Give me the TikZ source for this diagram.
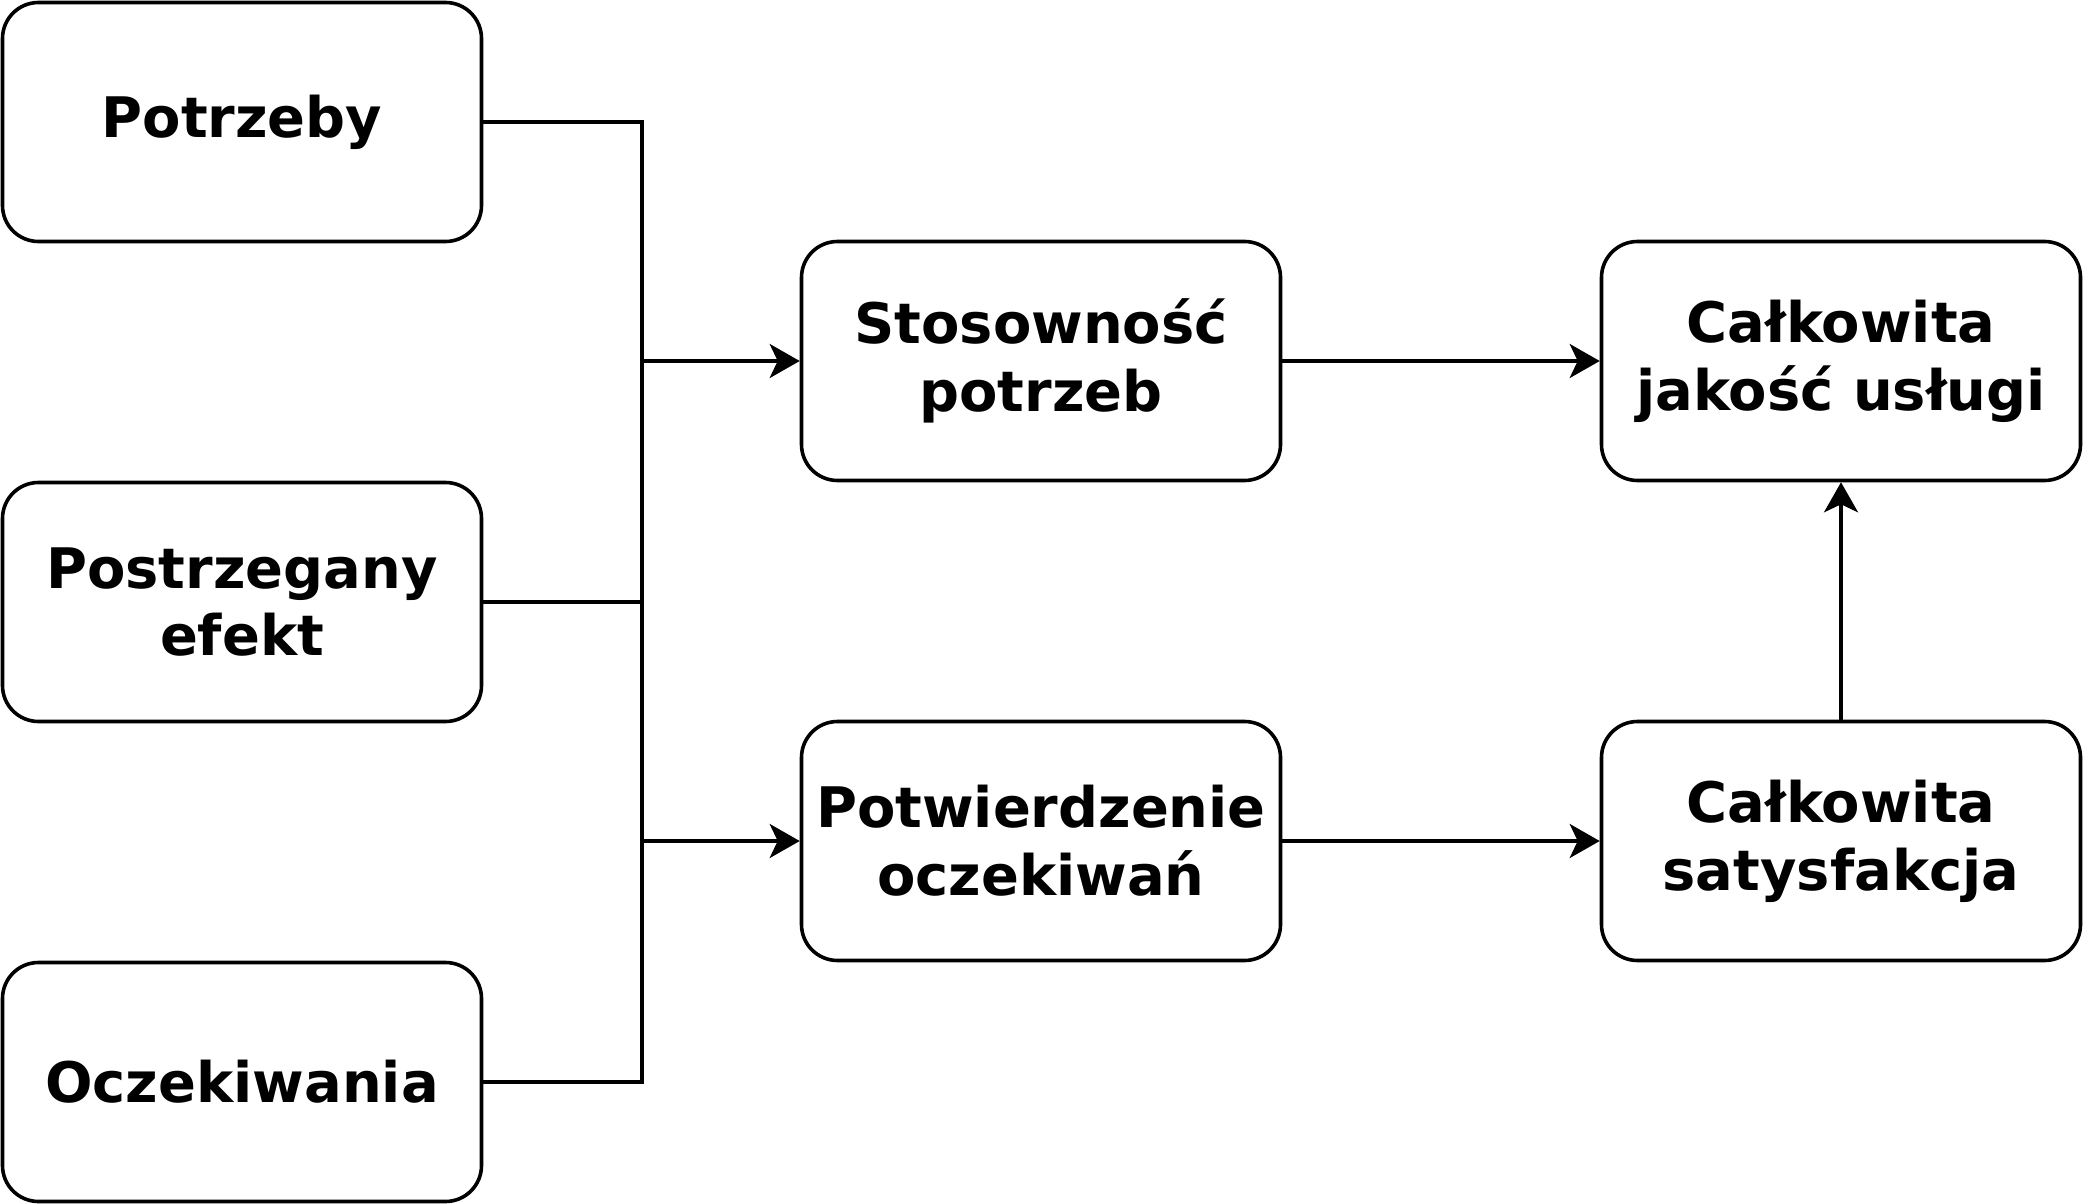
\documentclass[tikz,border=0pt]{standalone}
\usepackage{fontspec}
\setmainfont{DejaVu Sans}
\usetikzlibrary{arrows.meta}

\begin{document}
\begin{tikzpicture}[every node/.style={font=\fontsize{15.9pt}{19.3pt}\selectfont\bfseries},
    box/.style={draw, line width=0.036cm, rounded corners=0.36cm, fill=white,
      minimum width=4.79cm, minimum height=2.39cm, align=center, inner sep=0pt},
    link/.style={line width=0.034cm},
    arr/.style={link, -{Stealth[length=0.3cm, width=0.34cm, inset=0.08cm]}}]
    \useasboundingbox (0,0) rectangle (20.84,-12.04);
    \node[box] (potrzeby) at (2.42,-1.22) {Potrzeby};
    \node[box] (efekt) at (2.42,-6.02) {Postrzegany\\efekt};
    \node[box] (oczek) at (2.42,-10.82) {Oczekiwania};
    \node[box] (stos) at (10.41,-3.61) {Stosowność\\potrzeb};
    \node[box] (potw) at (10.41,-8.41) {Potwierdzenie\\oczekiwań};
    \node[box] (jakosc) at (18.41,-3.61) {Całkowita\\jakość usługi};
    \node[box] (satys) at (18.41,-8.41) {Całkowita\\satysfakcja};
    \coordinate (busTop) at (6.42,-1.22);
    \coordinate (busBot) at (6.42,-10.82);
    \draw[link] (potrzeby.east) -- (busTop) -- (busBot) -- (oczek.east);
    \draw[link] (efekt.east) -- (efekt.east -| busTop);
    \draw[arr] (stos.west -| busTop) -- (stos.west);
    \draw[arr] (potw.west -| busTop) -- (potw.west);
    \draw[arr] (stos) -- (jakosc);
    \draw[arr] (potw) -- (satys);
    \draw[arr] (satys) -- (jakosc);
  \end{tikzpicture}
\end{document}
